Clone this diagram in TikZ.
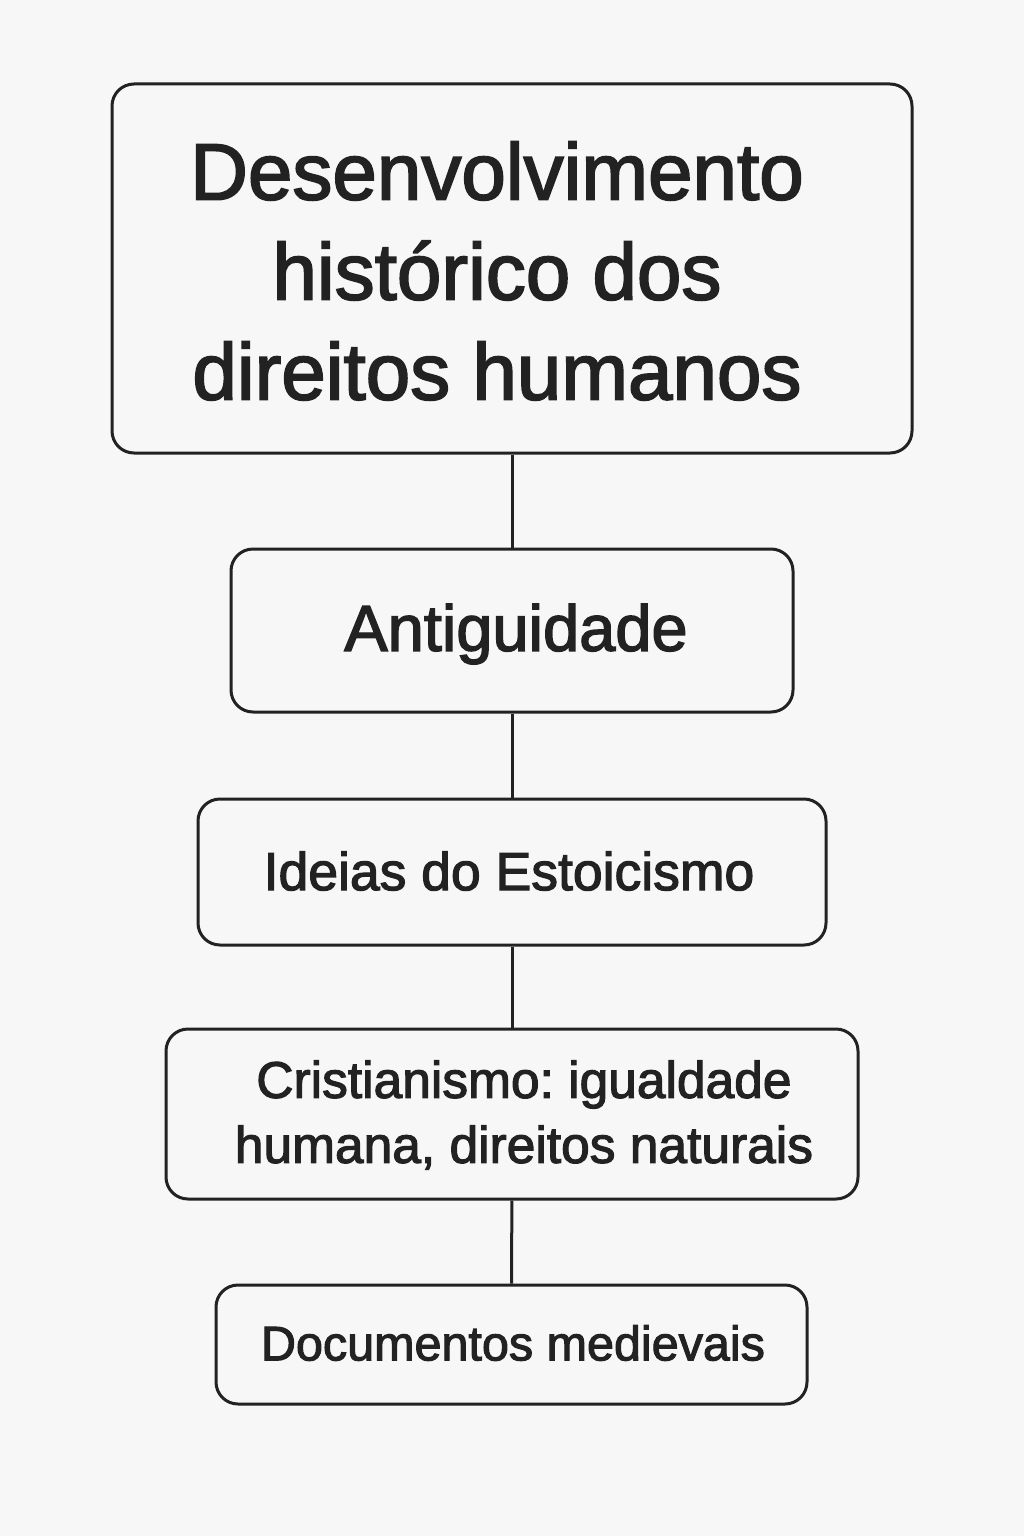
\documentclass[tikz,border=0pt]{standalone}
\usepackage{fontspec}
\setmainfont{Liberation Sans}
\newfontfamily\medfont[FakeBold=2.2]{Liberation Sans}
\frenchspacing
\definecolor{bg}{HTML}{F7F7F7}
\definecolor{ink}{HTML}{222222}
\begin{document}
\begin{tikzpicture}[x=1pt,y=-1pt,
  box/.style={draw=ink, line width=3pt, rounded corners=22pt, fill=bg, inner sep=0pt},
  lbl/.style={inner sep=0pt, align=center, text=ink},
  link/.style={draw=ink, line width=3pt}]
\fill[bg] (0,0) rectangle (1024,1536);
\useasboundingbox (0,0) rectangle (1024,1536);
\node[box, minimum width=800pt, minimum height=369pt] (title) at (512,268.5) {};
\node[lbl, font=\medfont\fontsize{80}{100}\selectfont] (titleT) at (497,271) {Desenvolvimento\\histórico dos\\direitos humanos};
\node[box, minimum width=562pt, minimum height=163pt] (ant) at (512,630.5) {};
\node[lbl, font=\medfont\fontsize{65}{70}\selectfont] (antT) at (516,634) {Antiguidade};
\node[box, minimum width=628pt, minimum height=146pt] (est) at (512,872) {};
\node[lbl, font=\medfont\fontsize{53.5}{60}\selectfont] (estT) at (509,871) {Ideias do Estoicismo};
\node[box, minimum width=692pt, minimum height=170pt] (cri) at (512,1114) {};
\node[lbl, font=\medfont\fontsize{51.5}{65}\selectfont] (criT) at (524,1115) {Cristianismo: igualdade\\humana, direitos naturais};
\node[box, minimum width=591pt, minimum height=119pt] (doc) at (511.5,1344.5) {};
\node[lbl, font=\medfont\fontsize{48.5}{56}\selectfont] (docT) at (513,1343) {Documentos medievais};
\draw[link] (title) -- (ant);
\draw[link] (ant) -- (est);
\draw[link] (est) -- (cri);
\draw[link] (cri) -- (doc);
\end{tikzpicture}
\end{document}
